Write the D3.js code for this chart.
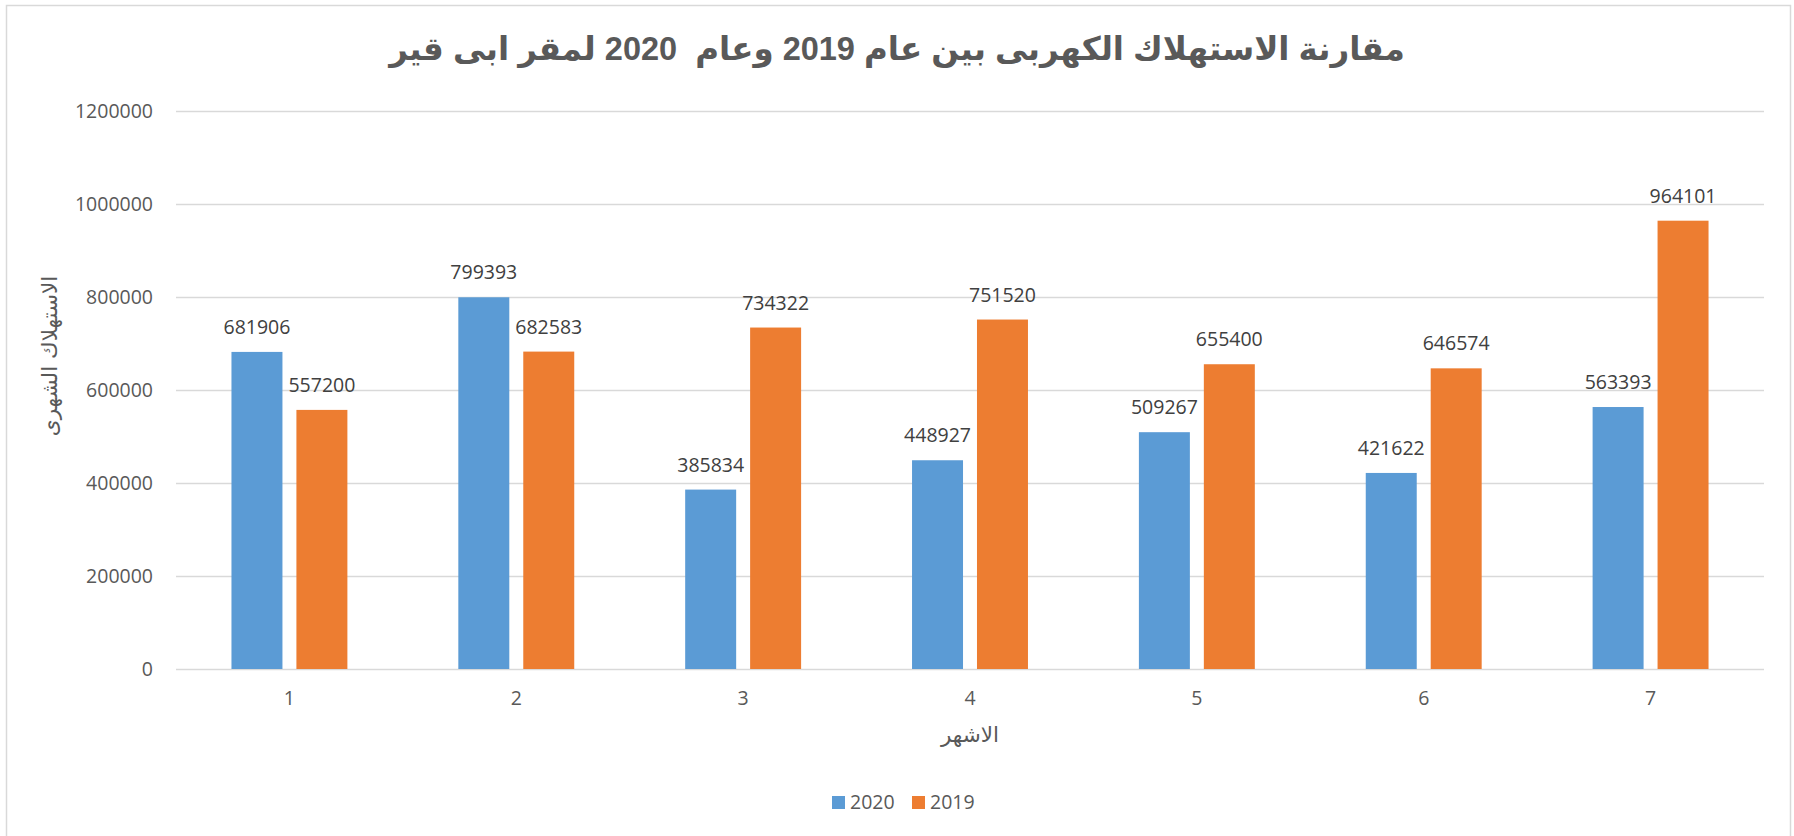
<!DOCTYPE html>
<html lang="ar">
<head>
<meta charset="utf-8">
<script src="https://cdn.jsdelivr.net/npm/d3@7/dist/d3.min.js"></script>
<style>
  html, body { margin: 0; padding: 0; background: #fff; }
  svg { display: block; }
</style>
</head>
<body>
<div id="chart"></div>
<script>
// monthly consumption, Abu Qir site
const months = ['1', '2', '3', '4', '5', '6', '7'];
const seriesNames = ['2020', '2019'];
const values2020 = [681906, 799393, 385834, 448927, 509267, 421622, 563393];
const values2019 = [557200, 682583, 734322, 751520, 655400, 646574, 964101];
const yTicks = [0, 200000, 400000, 600000, 800000, 1000000, 1200000];

const titleText = 'مقارنة الاستهلاك الكهربى بين عام 2019 وعام  2020 لمقر ابى قير';
const yTitle = 'الاستهلاك الشهرى';
const xTitle = 'الاشهر';

const colors = { '2020': '#5B9BD5', '2019': '#ED7D31' };
const textColor = '#595959';
const gridColor = '#D9D9D9';
const numFont = '"Open Sans", "DejaVu Sans", sans-serif';

const width = 1794;
const height = 836;
const margin = { top: 111, right: 30, bottom: 167, left: 176 };

const rows = months.map((m, i) => ({
  month: m,
  values: [
    { key: '2020', value: values2020[i] },
    { key: '2019', value: values2019[i] }
  ]
}));

const svg = d3
  .select('#chart')
  .append('svg')
  .attr('width', width)
  .attr('height', height)
  .attr('viewBox', `0 0 ${width} ${height}`);

// chart frame
svg
  .append('rect')
  .attr('x', 6.5)
  .attr('y', 5.5)
  .attr('width', 1784)
  .attr('height', 860)
  .attr('fill', '#fff')
  .attr('stroke', gridColor)
  .attr('stroke-width', 1.5);

const x0 = d3
  .scaleBand()
  .domain(months)
  .range([margin.left, width - margin.right])
  .paddingInner(0.489)
  .paddingOuter(0.2445);

const x1 = d3
  .scaleBand()
  .domain(seriesNames)
  .range([0, x0.bandwidth()])
  .paddingInner(0.215);

const y = d3
  .scaleLinear()
  .domain([0, 1200000])
  .range([height - margin.bottom, margin.top]);

// gridlines
svg
  .append('g')
  .selectAll('line')
  .data(yTicks)
  .join('line')
  .attr('x1', margin.left)
  .attr('x2', width - margin.right)
  .attr('y1', (d) => Math.round(y(d)) + 0.5)
  .attr('y2', (d) => Math.round(y(d)) + 0.5)
  .attr('stroke', gridColor)
  .attr('stroke-width', 1.3);

// y axis labels
svg
  .append('g')
  .attr('transform', `translate(${margin.left},0)`)
  .call(d3.axisLeft(y).tickValues(yTicks).tickSize(0).tickPadding(23).tickFormat(d3.format('d')))
  .call((g) => g.select('.domain').remove())
  .call((g) =>
    g.selectAll('.tick text')
      .attr('fill', textColor)
      .attr('font-family', numFont)
      .attr('font-size', 19.5)
  );

// x axis labels
svg
  .append('g')
  .attr('transform', `translate(0,${height - margin.bottom})`)
  .call(d3.axisBottom(x0).tickSize(0).tickPadding(22))
  .call((g) => g.select('.domain').remove())
  .call((g) =>
    g.selectAll('.tick text')
      .attr('fill', textColor)
      .attr('font-family', numFont)
      .attr('font-size', 19.5)
  );

// bars
const groups = svg
  .append('g')
  .selectAll('g')
  .data(rows)
  .join('g')
  .attr('transform', (d) => `translate(${x0(d.month)},0)`);

groups
  .selectAll('rect')
  .data((d) => d.values)
  .join('rect')
  .attr('x', (d) => x1(d.key))
  .attr('y', (d) => y(d.value))
  .attr('width', x1.bandwidth())
  .attr('height', (d) => y(0) - y(d.value))
  .attr('fill', (d) => colors[d.key]);

groups
  .selectAll('text')
  .data((d) => d.values)
  .join('text')
  .attr('x', (d) => x1(d.key) + x1.bandwidth() / 2)
  .attr('y', (d) => y(d.value) - 18)
  .attr('text-anchor', 'middle')
  .attr('fill', '#404040')
  .attr('font-family', numFont)
  .attr('font-size', 19.5)
  .text((d) => d.value);

// title
svg
  .append('text')
  .attr('x', width / 2)
  .attr('y', 60)
  .attr('text-anchor', 'middle')
  .attr('direction', 'rtl')
  .attr('fill', textColor)
  .attr('font-family', '"Liberation Sans", "DejaVu Sans", sans-serif')
  .attr('font-weight', 'bold')
  .attr('font-size', 32.5)
  .style('white-space', 'pre')
  .text(titleText);

// axis titles
svg
  .append('text')
  .attr('transform', `translate(57,356) rotate(-90)`)
  .attr('text-anchor', 'middle')
  .attr('direction', 'rtl')
  .attr('fill', textColor)
  .attr('font-family', '"DejaVu Sans", sans-serif')
  .attr('font-size', 21.5)
  .text(yTitle);

svg
  .append('text')
  .attr('x', (margin.left + width - margin.right) / 2)
  .attr('y', 742)
  .attr('text-anchor', 'middle')
  .attr('direction', 'rtl')
  .attr('fill', textColor)
  .attr('font-family', '"DejaVu Sans", sans-serif')
  .attr('font-size', 21.5)
  .text(xTitle);

// legend
const legend = svg
  .append('g')
  .selectAll('g')
  .data(seriesNames)
  .join('g')
  .attr('transform', (d, i) => `translate(${832 + i * 80},796)`);

legend
  .append('rect')
  .attr('width', 13)
  .attr('height', 13)
  .attr('fill', (d) => colors[d]);

legend
  .append('text')
  .attr('x', 18)
  .attr('y', 13)
  .attr('fill', textColor)
  .attr('font-family', numFont)
  .attr('font-size', 19.5)
  .text((d) => d);
</script>
</body>
</html>
